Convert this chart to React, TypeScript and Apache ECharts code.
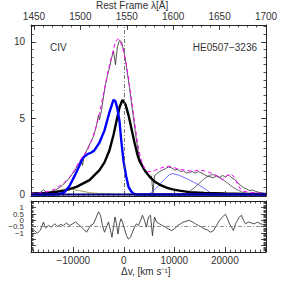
import React, { useEffect, useRef } from "react";
import * as echarts from "echarts";

const FONT = "Liberation Sans";
const VMIN = -18370;
const VMAX = 28160;
const LMIN = 1446.8;
const LMAX = 1700;

const velTicks = [-10000, 0, 10000, 20000];
const lamTicks = [1450, 1500, 1550, 1600, 1650, 1700];
const fluxTicks = [0, 5, 10];
const resTicksWhole = [-1, 0, 1];
const resTicksHalf = [-0.5, 0.5];

// observed spectrum
const specV = [-18370, -17480, -16690, -15900, -15305, -14315, -13520, -12730, -12140, -11540, -10950, -10355, -9760, -9170, -8770, -8375, -8180, -7780, -7190, -6590, -6000, -5410, -5010, -4810, -4420, -4020, -3620, -3230, -2830, -2440, -2040, -1640, -1250, -850, -455, -60, 340, 730, 1130, 1525, 1920, 2320, 2710, 3110, 3500, 3900, 4300, 4690, 5090, 5480, 5780, 6080, 6470, 7070, 7660, 8260, 8850, 9440, 10040, 10630, 11230, 11820, 12410, 13010, 13600, 14200, 14790, 15380, 15980, 16570, 17170, 17760, 18360, 18950, 19540, 20140, 20730, 21320, 21920, 22510, 23110, 23700, 24290, 24890, 25480, 26080, 26670, 27260, 28060];
const specY = [0.1, 0.12, 0.1, 0.3, 0.15, 0.2, 0.3, 0.45, 0.6, 0.8, 1.0, 1.3, 1.5, 1.9, 2.1, 2.3, 1.9, 2.6, 3.0, 3.4, 3.8, 4.5, 5.2, 4.9, 5.5, 6.4, 7.2, 7.8, 8.3, 8.9, 9.4, 8.5, 9.7, 10.1, 10.0, 9.5, 8.8, 7.9, 7.0, 6.0, 5.0, 4.0, 3.1, 2.4, 2.0, 1.7, 1.4, 1.3, 1.2, 1.2, 0.1, 1.2, 1.35, 1.5, 1.6, 1.7, 1.8, 1.75, 1.6, 1.65, 1.5, 1.55, 1.4, 1.45, 1.5, 1.4, 1.5, 1.4, 1.3, 1.2, 1.15, 1.1, 1.2, 1.1, 1.25, 1.15, 1.3, 1.1, 1.0, 0.8, 0.6, 0.45, 0.35, 0.25, 0.3, 0.2, 0.15, 0.1, 0.05];

// total fit (magenta dashed)
const fitV = [-18370, -16690, -14710, -13720, -12730, -11740, -10750, -9760, -8770, -7780, -7190, -6400, -5600, -4810, -4020, -3230, -2440, -1640, -1150, -650, -60, 535, 1130, 1720, 2320, 2910, 3500, 4100, 4690, 5480, 6280, 7070, 8060, 9050, 10040, 11030, 12020, 13010, 14000, 14990, 15980, 16970, 17960, 18950, 19540, 20330, 21130, 21720, 22510, 23110, 23700, 24890, 26470, 28060];
const fitY = [0.05, 0.1, 0.2, 0.35, 0.55, 0.8, 1.1, 1.6, 2.2, 2.6, 2.9, 3.5, 4.3, 5.3, 6.6, 7.9, 9.0, 10.0, 10.2, 10.0, 9.4, 8.5, 7.2, 5.8, 4.3, 3.0, 2.2, 1.7, 1.5, 1.5, 1.6, 1.7, 1.8, 1.85, 1.75, 1.65, 1.6, 1.55, 1.55, 1.6, 1.55, 1.45, 1.3, 1.1, 0.95, 1.2, 1.35, 1.2, 0.7, 0.35, 0.2, 0.15, 0.1, 0.05];

// broad component (thick black)
const broadV = [-18370, -14710, -11740, -9365, -6790, -4810, -3820, -2830, -2040, -1450, -850, -260, 340, 930, 1525, 2120, 2710, 3110, 4100, 5090, 6080, 7070, 8450, 9640, 11030, 13010, 15980, 19940, 23900, 28160];
const broadY = [0.05, 0.1, 0.25, 0.5, 0.94, 1.6, 2.1, 2.9, 3.9, 4.8, 5.7, 6.2, 5.9, 5.2, 4.3, 3.4, 2.6, 2.2, 1.6, 1.17, 0.85, 0.65, 0.45, 0.33, 0.25, 0.15, 0.1, 0.06, 0.04, 0.03];

// blueshifted component (thick blue)
const blueV = [-18370, -13720, -12730, -11740, -10750, -9760, -8770, -8120, -7130, -6400, -5800, -4810, -3820, -2830, -2040, -1640, -1250, -850, -515, -60, 475, 930, 1465, 1920, 2510, 28160];
const blueY = [0, 0, 0.03, 0.15, 0.55, 1.2, 1.9, 2.4, 2.65, 2.75, 2.9, 3.4, 4.2, 5.4, 6.2, 6.1, 5.6, 4.8, 3.6, 2.2, 1.2, 0.5, 0.2, 0.05, 0, 0];

// thin blue component
const comp2V = [4100, 5090, 6080, 7070, 8060, 9050, 9640, 11030, 13010, 14990, 16370, 17360, 17960];
const comp2Y = [0, 0.05, 0.3, 0.65, 1.0, 1.3, 1.37, 1.25, 0.95, 0.6, 0.3, 0.05, 0];

// thin black component
const comp3V = [11030, 12020, 13010, 14000, 14990, 15980, 16970, 17560, 18360, 19350, 20530, 21520, 22510, 23700, 24890, 25880];
const comp3Y = [0, 0.05, 0.2, 0.45, 0.75, 1.05, 1.25, 1.3, 1.25, 1.05, 0.75, 0.5, 0.3, 0.12, 0.03, 0];

// olive component
const oliveV = [-18370, -15700, -13720, -11740, -10355, -8770, -6790, -4810, -1840, 140];
const oliveY = [0.02, 0.08, 0.2, 0.35, 0.35, 0.25, 0.12, 0.06, 0.02, 0];

// continuum
const contV = [VMIN, VMAX];
const contY = [0, 0];

// residuals
const resV = [-18275, -17680, -17090, -16490, -15900, -15500, -14910, -14315, -13720, -13130, -12530, -11940, -11350, -10750, -10160, -9560, -8970, -8375, -7780, -7385, -6990, -6590, -6000, -5410, -5010, -4610, -4220, -3820, -3430, -3030, -2630, -2340, -2040, -1740, -1450, -1150, -850, -550, -260, 140, 535, 930, 1330, 1720, 2120, 2510, 2910, 3310, 3700, 4100, 4490, 4890, 5290, 5680, 6080, 6470, 7070, 7660, 8260, 8850, 9440, 10040, 10630, 11230, 11820, 12410, 13010, 13600, 14200, 14790, 15380, 15980, 16570, 17170, 17760, 18360, 18950, 19540, 20140, 20530, 20930, 21320, 21720, 22120, 22510, 22910, 23300, 23700, 24100, 24690, 25280, 25880, 26470, 27070, 27660, 28060];
const resY = [-0.45, -0.32, -0.53, -0.27, 0.35, -0.11, 0.08, -0.05, 0.21, 0, 0.16, 0.08, 0.27, 0.08, 0.21, 0.35, 0.16, -0.05, -0.27, -0.45, -0.19, 0.08, 0.21, 0.75, 1.15, 0.88, 0.08, -0.45, -0.05, 0.35, -0.32, -0.85, -0.05, 0.75, 0.21, -0.59, 0.21, 0.61, 0.35, -0.19, -0.72, -0.99, -0.85, -0.45, -0.05, 0.21, 0.08, 0.48, 0.88, 0.48, -0.05, 0.75, 0.88, -0.72, 0.75, 0.35, 0.21, 0.08, -0.05, -0.19, -0.32, -0.19, 0.08, 0.21, 0.35, 0.43, 0.48, 0.35, 0.21, 0.08, -0.05, -0.19, -0.27, -0.45, -0.32, 0.08, 0.48, 0.75, 0.96, 0.61, 0.21, -0.05, -0.32, 0.21, 0.48, 0.75, 0.88, 0.48, 0.21, 0.35, 0.27, 0.21, 0.35, 0.21, 0.16, 0.21];

function pairs(xs: number[], ys: number[]) {
  return xs.map((x, i) => [x, ys[i]]);
}
function steps(a: number, b: number, s: number) {
  const out: number[] = [];
  for (let v = a; v <= b + 1e-9; v += s) out.push(Math.round(v * 1000) / 1000);
  return out;
}
const minus = (v: number) => String(v).replace("-", "\u2212");

const AX = "#222";

function axis(grid: number, pos: string, min: number, max: number, ticks: number[], len: number, line: boolean, labels?: number[], margin = 4, extra: any = {}) {
  return {
    type: "value",
    gridIndex: grid,
    position: pos,
    min,
    max,
    axisLine: { show: line, onZero: false, lineStyle: { color: AX, width: 1 } },
    axisTick: { show: true, inside: true, length: len, customValues: ticks, lineStyle: { color: AX, width: 0.8 } },
    axisLabel: labels
      ? { show: true, customValues: labels, hideOverlap: false, showMinLabel: true, showMaxLabel: true, fontSize: 10, fontFamily: FONT, color: "#333", margin, formatter: (v: number) => minus(v), ...extra }
      : { show: false },
    splitLine: { show: false },
  };
}

function line(name: string, data: number[][], color: string, width: number, xi: number, yi: number, type: any = "solid", z = 2) {
  return {
    name,
    type: "line",
    data,
    xAxisIndex: xi,
    yAxisIndex: yi,
    symbol: "none",
    smooth: false,
    z,
    lineStyle: { color, width, type },
  };
}

export default function App() {
  const ref = useRef<HTMLDivElement>(null);
  useEffect(() => {
    document.body.style.margin = "0";
    const chart = echarts.init(ref.current!, null, { renderer: "svg" });
    const velMinor = steps(-18000, 28000, 1000);
    const lamMinor = steps(1450, 1700, 10);
    const fluxMinor = steps(0, 11, 0.5);
    const resMinor = steps(-2, 2, 0.1);
    const resMajor = steps(-2, 2, 0.5);
    const RMIN = -2, RMAX = 2;
    const FMIN = -0.1, FMAX = 11.1;
    const resLab = { fontSize: 8, verticalAlign: "bottom", lineHeight: 12 };

    const option: any = {
      animation: false,
      grid: [
        { left: 31, top: 25, width: 235, height: 171 },
        { left: 31, top: 201, width: 235, height: 51 },
      ],
      xAxis: [
        axis(0, "bottom", VMIN, VMAX, velTicks, 5, true),
        axis(0, "bottom", VMIN, VMAX, velMinor, 2.5, false),
        axis(0, "top", LMIN, LMAX, lamTicks, 5, true, lamTicks, 4),
        axis(0, "top", LMIN, LMAX, lamMinor, 2.5, false),
        axis(1, "bottom", VMIN, VMAX, velTicks, 5, true, velTicks, 3),
        axis(1, "bottom", VMIN, VMAX, velMinor, 2.5, false),
        axis(1, "top", VMIN, VMAX, velTicks, 5, true),
        axis(1, "top", VMIN, VMAX, velMinor, 2.5, false),
      ],
      yAxis: [
        axis(0, "left", FMIN, FMAX, fluxTicks, 5, true, fluxTicks, 6),
        axis(0, "left", FMIN, FMAX, fluxMinor, 2.5, false),
        axis(0, "right", FMIN, FMAX, fluxTicks, 5, true),
        axis(0, "right", FMIN, FMAX, fluxMinor, 2.5, false),
        axis(1, "left", RMIN, RMAX, resMajor, 5, true, resTicksWhole, 7, resLab),
        axis(1, "left", RMIN, RMAX, resMinor, 2.5, false, resTicksHalf, 7, resLab),
        axis(1, "right", RMIN, RMAX, resMajor, 5, true),
        axis(1, "right", RMIN, RMAX, resMinor, 2.5, false),
      ],
      series: [
        line("olive", pairs(oliveV, oliveY), "#a8a060", 1, 0, 0, "solid", 1),
        {
          ...line("spectrum", pairs(specV, specY), "#2a2a2a", 0.8, 0, 0, "solid", 2),
          markLine: {
            silent: true,
            symbol: "none",
            label: { show: false },
            lineStyle: { color: "#555", width: 0.8, type: [4, 2, 1, 2] },
            data: [{ xAxis: 0 }],
          },
        },
        line("comp2", pairs(comp2V, comp2Y), "#4a4aff", 0.8, 0, 0, "solid", 3),
        line("comp3", pairs(comp3V, comp3Y), "#444", 0.8, 0, 0, "solid", 3),
        line("broad", pairs(broadV, broadY), "#000", 2.4, 0, 0, "solid", 4),
        line("blue", pairs(blueV, blueY), "#0000ff", 2.4, 0, 0, "solid", 4),
        line("fit", pairs(fitV, fitY), "#ff00ff", 1, 0, 0, [4, 3], 5),
        line("cont", pairs(contV, contY), "#000080", 2, 0, 0, "solid", 5),
        {
          ...line("resid", pairs(resV, resY), "#222", 0.8, 4, 4, "solid", 3),
          markLine: {
            silent: true,
            symbol: "none",
            label: { show: false },
            lineStyle: { color: "#777", width: 0.8, type: [4, 2, 1, 2] },
            data: [{ yAxis: 0 }],
          },
        },
      ],
      graphic: [
        { type: "text", left: 96, top: 0, style: { text: "Rest Frame \u03bb[\u00c5]", fontSize: 10, fontFamily: FONT, fill: "#333" } },
        { type: "text", left: 121, top: 266, style: { text: "\u0394v, [km s\u207b\u00b9]", fontSize: 10, fontFamily: FONT, fill: "#333" } },
        { type: "text", left: 50, top: 42, style: { text: "CIV", fontSize: 10, fontFamily: FONT, fill: "#333" } },
        { type: "text", right: 26, top: 42, style: { text: "HE0507\u22123236", fontSize: 10, fontFamily: FONT, fill: "#333" } },
      ],
    };
    chart.setOption(option);
    return () => chart.dispose();
  }, []);
  return <div ref={ref} style={{ width: 283, height: 283, background: "#fff" }} />;
}
